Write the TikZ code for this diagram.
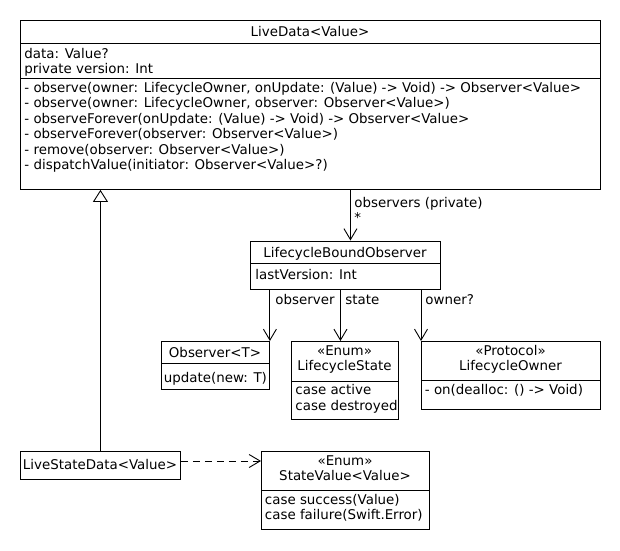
\documentclass[tikz,border=0pt]{standalone}
\usepackage{fontspec}
\setmainfont{DejaVu Sans}
\usetikzlibrary{arrows.meta, calc}

\begin{document}
\begin{tikzpicture}[
    x=1pt, y=-1pt, line width=0.9pt,
    every node/.style={font=\fontsize{13.4}{15.5}\selectfont, inner sep=0pt},
    frame/.style={draw, anchor=north west},
    entry/.style={anchor=base west},
    title/.style={anchor=base},
    assoc/.style={-{Straight Barb[length=11pt, width=13pt]}},
    realize/.style={-{Triangle[open, length=12pt, width=15pt]}},
    depend/.style={dash pattern=on 7pt off 5pt, -{Straight Barb[length=11pt, width=13pt]}}
]
    \useasboundingbox (0,0) rectangle (620,550);

    % LiveData
    \node[frame, minimum width=580pt, minimum height=169pt] (livedata) at (20,20) {};
    \node[title] (livedata-name) at (310,36.5) {LiveData<Value>};
    \draw (livedata.west |- 0,43.5) -- (livedata.east |- 0,43.5);
    \foreach \t [count=\i] in {{data: Value?}, {private version: Int}} {
        \node[entry] (livedata-attr-\i) at (24, 43 + 15 * \i) {\t};
    }
    \draw (livedata.west |- 0,78) -- (livedata.east |- 0,78);
    \foreach \t [count=\i] in {
        {- observe(owner: LifecycleOwner, onUpdate: (Value) -> Void) -> Observer<Value>},
        {- observe(owner: LifecycleOwner, observer: Observer<Value>)},
        {- observeForever(onUpdate: (Value) -> Void) -> Observer<Value>},
        {- observeForever(observer: Observer<Value>)},
        {- remove(observer: Observer<Value>)},
        {- dispatchValue(initiator: Observer<Value>?)}
    } {
        \node[entry] (livedata-op-\i) at (24, 76.5 + 15.5 * \i) {\t};
    }

    % LifecycleBoundObserver
    \node[frame, minimum width=190pt, minimum height=48pt] (lbo) at (250,240.5) {};
    \node[title] (lbo-name) at (345,257.5) {LifecycleBoundObserver};
    \draw (lbo.west |- 0,263.5) -- (lbo.east |- 0,263.5);
    \node[entry] (lbo-attr) at (255,279) {lastVersion: Int};

    % Observer<T>
    \node[frame, minimum width=108pt, minimum height=48pt] (observer) at (161,341) {};
    \node[title] (observer-name) at (215,357.5) {Observer<T>};
    \draw (observer.west |- 0,363) -- (observer.east |- 0,363);
    \node[entry] (observer-op) at (163.5,382.5) {update(new: T)};

    % LifecycleState
    \node[frame, minimum width=107pt, minimum height=78pt] (state) at (291,341) {};
    \node[title] (state-kind) at (344.5,355) {«Enum»};
    \node[title] (state-name) at (344.5,370.5) {LifecycleState};
    \draw (state.west |- 0,381) -- (state.east |- 0,381);
    \foreach \t [count=\i] in {{case active}, {case destroyed}} {
        \node[entry] (state-case-\i) at (295, 379 + 15.5 * \i) {\t};
    }

    % LifecycleOwner
    \node[frame, minimum width=179pt, minimum height=68pt] (owner) at (421,341) {};
    \node[title] (owner-kind) at (510.5,355) {«Protocol»};
    \node[title] (owner-name) at (510.5,370.5) {LifecycleOwner};
    \draw (owner.west |- 0,380) -- (owner.east |- 0,380);
    \node[entry] (owner-op) at (424.5,394) {- on(dealloc: () -> Void)};

    % LiveStateData<Value>
    \node[frame, minimum width=160pt, minimum height=28pt] (lsd) at (20,451) {};
    \node[title] (lsd-name) at (100,469.5) {LiveStateData<Value>};

    % StateValue<Value>
    \node[frame, minimum width=168pt, minimum height=78pt] (statevalue) at (261,451) {};
    \node[title] (statevalue-kind) at (345,465) {«Enum»};
    \node[title] (statevalue-name) at (345,480.5) {StateValue<Value>};
    \draw (statevalue.west |- 0,490) -- (statevalue.east |- 0,490);
    \foreach \t [count=\i] in {{case success(Value)}, {case failure(Swift.Error)}} {
        \node[entry] (statevalue-case-\i) at (264.5, 488.5 + 15.5 * \i) {\t};
    }

    % connectors
    \coordinate (obs-in) at ($(lbo.north) + (5,0)$);
    \draw[assoc] (obs-in |- livedata.south) -- (obs-in);
    \node[entry] (lbl-observers) at (354,207) {observers (private)};
    \node[entry] (lbl-many) at (354,222) {*};

    \draw[assoc] (observer.north east |- lbo.south) -- (observer.north east);
    \node[entry] (lbl-observer) at (275,304) {observer};

    \coordinate (state-in) at ($(state.north) + (-4.5,0)$);
    \draw[assoc] (state-in |- lbo.south) -- (state-in);
    \node[entry] (lbl-state) at (345,304) {state};

    \draw[assoc] (owner.north west |- lbo.south) -- (owner.north west);
    \node[entry] (lbl-owner) at (425,304) {owner?};

    \draw[realize] (lsd.north) -- (lsd.north |- livedata.south);

    \coordinate (dep-in) at ($(statevalue.north west) + (0,10)$);
    \draw[depend] (lsd.east |- dep-in) -- (dep-in);
\end{tikzpicture}
\end{document}
